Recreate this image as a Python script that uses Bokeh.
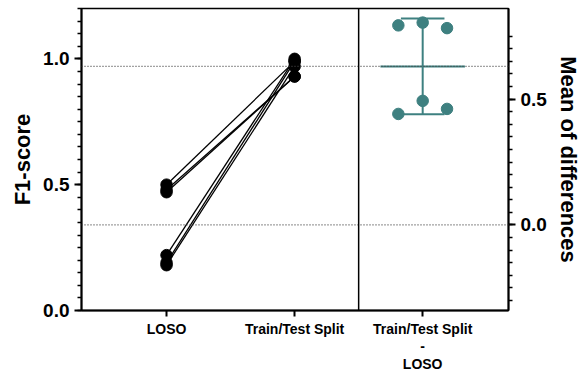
import numpy as np
from bokeh.plotting import figure
from bokeh.models import Range1d, LinearAxis, FixedTicker, Span
from bokeh.embed import file_html
from bokeh.resources import INLINE

# ---- data ----
categories = ["LOSO", "Train/Test Split", "Train/Test Split\n-\nLOSO"]
loso = [0.50, 0.48, 0.47, 0.22, 0.19, 0.18]
train_test = [0.99, 0.93, 0.93, 1.00, 0.99, 0.97]
differences = [0.441, 0.493, 0.461, 0.793, 0.804, 0.782]
loso_mean = 0.34
train_test_mean = 0.97
diff_mean = 0.63
diff_low = 0.44
diff_high = 0.82
left_ticks = [0.0, 0.5, 1.0]
right_ticks = [0.0, 0.5]

# ---- layout ----
FONT = "Liberation Sans"
TEAL = "#3E8080"
jitter = [-0.19, 0.0, 0.19, -0.19, 0.0, 0.19]

p = figure(width=586, height=374, output_backend="svg", toolbar_location=None,
           x_range=Range1d(0.336, 3.67), y_range=Range1d(0.0, 1.2),
           min_border_left=81, min_border_right=78, min_border_top=8, min_border_bottom=64)
p.xgrid.visible = False
p.ygrid.visible = False
p.outline_line_color = "black"
p.outline_line_width = 1.5
p.background_fill_color = "white"
p.border_fill_color = "white"

p.extra_y_ranges = {"diff": Range1d(0.0 - loso_mean, 1.2 - loso_mean)}

# reference dotted lines
for lvl in [train_test_mean, loso_mean]:
    p.add_layout(Span(location=lvl, dimension="width", line_color="#444444",
                      line_dash="1 2", line_width=1.3))
# divider
p.add_layout(Span(location=2.5, dimension="height", line_color="black", line_width=1.5))

# paired lines
xs = [[1, 2] for _ in loso]
ys = [[a, b] for a, b in zip(loso, train_test)]
p.multi_line(xs=xs, ys=ys, line_color="black", line_width=1.3)
p.scatter([1] * len(loso), loso, size=11.5, color="black")
p.scatter([2] * len(train_test), train_test, size=11.5, color="black")

# differences panel
dx = [3 + j for j in jitter]
p.segment(x0=[3], y0=[diff_low], x1=[3], y1=[diff_high], line_color=TEAL, line_width=2, y_range_name="diff")
p.segment(x0=[3 - 0.17, 3 - 0.17], y0=[diff_low, diff_high], x1=[3 + 0.17, 3 + 0.17], y1=[diff_low, diff_high],
          line_color=TEAL, line_width=2, y_range_name="diff")
p.segment(x0=[3 - 0.33], y0=[diff_mean], x1=[3 + 0.33], y1=[diff_mean], line_color=TEAL, line_width=2,
          y_range_name="diff")
p.scatter(dx, differences, size=11.5, color=TEAL, y_range_name="diff")

# left axis
ya = p.yaxis[0]
ya.ticker = FixedTicker(ticks=left_ticks, minor_ticks=list(np.round(np.arange(0, 1.2001, 0.05), 3)))
ya.axis_label = "F1-score"
ya.axis_label_text_font = FONT
ya.axis_label_text_font_style = "bold"
ya.axis_label_text_font_size = "22px"
ya.axis_label_text_color = "black"
ya.major_label_text_font = FONT
ya.major_label_text_font_style = "bold"
ya.major_label_text_font_size = "19px"
ya.major_label_text_color = "black"
ya.axis_line_width = 2
ya.major_tick_line_width = 2
ya.minor_tick_line_width = 1.5
ya.major_tick_out = 7
ya.major_tick_in = 0
ya.minor_tick_out = 4
ya.minor_tick_in = 0
ya.major_label_overrides = {0.0: "0.0", 0.5: "0.5", 1.0: "1.0"}

# right axis
ra = LinearAxis(y_range_name="diff")
ra.ticker = FixedTicker(ticks=right_ticks, minor_ticks=list(np.round(np.arange(-0.30, 0.7501, 0.05), 3)))
ra.axis_label = "Mean of differences"
ra.axis_label_text_font = FONT
ra.axis_label_text_font_style = "bold"
ra.axis_label_text_font_size = "22px"
ra.axis_label_text_color = "black"
ra.axis_label_standoff = 6
ra.major_label_text_font = FONT
ra.major_label_text_font_style = "bold"
ra.major_label_text_font_size = "19px"
ra.major_label_text_color = "black"
ra.axis_line_width = 2
ra.major_tick_line_width = 2
ra.minor_tick_line_width = 1.5
ra.major_tick_out = 7
ra.major_tick_in = 0
ra.minor_tick_out = 4
ra.minor_tick_in = 0
ra.major_label_overrides = {0.0: "0.0", 0.5: "0.5"}
p.add_layout(ra, "right")

# bottom axis
xa = p.xaxis[0]
xa.ticker = FixedTicker(ticks=[1, 2, 3], minor_ticks=[])
xa.major_label_overrides = {1: categories[0], 2: categories[1], 3: categories[2]}
xa.major_label_text_font = FONT
xa.major_label_text_font_style = "bold"
xa.major_label_text_font_size = "14px"
xa.major_label_text_color = "black"
xa.major_label_text_line_height = 1.1
xa.major_label_standoff = 4
xa.axis_line_width = 2
xa.major_tick_line_width = 2
xa.major_tick_out = 6
xa.major_tick_in = 0
xa.minor_tick_out = 0

open("out.html", "w").write(file_html(p, INLINE))
